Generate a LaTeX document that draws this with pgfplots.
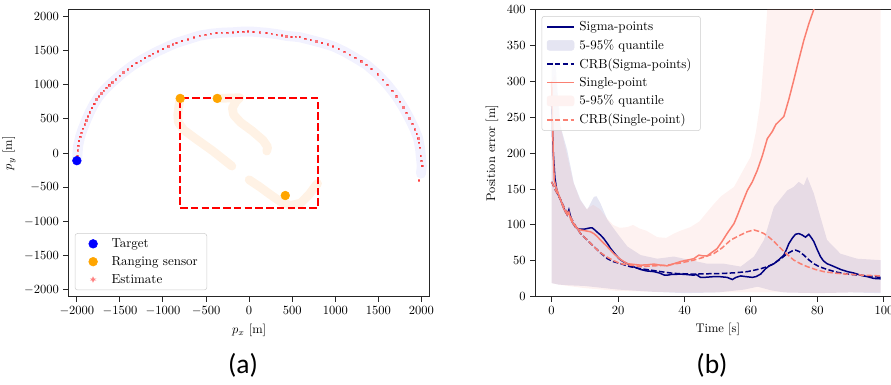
\documentclass[border=0pt]{standalone}
\usepackage{pgfplots}
\pgfplotsset{compat=1.18}
\usepackage{fontspec}
\newfontfamily\labfont{Carlito}
\definecolor{navyc}{RGB}{0,0,128}
\definecolor{salmonc}{RGB}{250,128,114}
\definecolor{orangec}{RGB}{255,165,0}
\definecolor{trailc}{RGB}{255,150,40}
\definecolor{bluec}{RGB}{0,0,255}
\definecolor{redc}{RGB}{255,0,0}
\definecolor{estc}{RGB}{255,128,128}
\pgfplotsset{
  mpl/.style={
    scale only axis,
    axis line style={black!85, line width=0.8pt},
    tick pos=left,
    tick align=outside,
    major tick length=4pt,
    every tick/.style={black!85, line width=0.8pt},
    tick label style={font=\normalsize},
    label style={font=\normalsize},
    legend cell align=left,
    legend style={draw=black!20, rounded corners=2pt, fill=white, fill opacity=0.8, text opacity=1,
      font=\fontsize{10.4}{12.5}\selectfont,
      inner xsep=3.5pt, inner ysep=3pt, row sep=3.7pt,
      nodes={inner xsep=3.7pt, inner ysep=1pt}},
  },
  linelegend/.style={legend image code/.code={\draw[##1] (0pt,0pt) -- (21.6pt,0pt);}},
}
\begin{document}
\begin{tikzpicture}[x=1pt,y=1pt]
\useasboundingbox (0,0) rectangle (712.8,308);
% ---------------- (a) ----------------
\begin{axis}[mpl,
  at={(54.6pt,70.6pt)}, anchor=south west,
  width=289.4pt, height=229.8pt,
  xmin=-2100, xmax=2100, ymin=-2100, ymax=2100,
  xtick={-2000,-1500,-1000,-500,0,500,1000,1500,2000},
  ytick={-2000,-1500,-1000,-500,0,500,1000,1500,2000},
  xlabel={$p_x$ [m]}, ylabel={$p_y$ [m]},
  xticklabel style={/pgf/number format/.cd, 1000 sep={}},
  yticklabel style={/pgf/number format/.cd, 1000 sep={}},
  legend style={at={(0.018,0.023)}, anchor=south west},
]
\addlegendimage{legend image code/.code={\fill[bluec, fill opacity=1] (10.8pt,0pt) circle (3.5pt); \path (0pt,0pt) (21.6pt,0pt);}}
\addlegendentry{Target}
\addlegendimage{legend image code/.code={\fill[orangec, fill opacity=1] (10.8pt,0pt) circle (3.5pt); \path (0pt,0pt) (21.6pt,0pt);}}
\addlegendentry{Ranging sensor}
\addlegendimage{legend image code/.code={\fill[estc, fill opacity=1] (10.35pt,-0.45pt) rectangle (11.25pt,0.45pt); \path (0pt,0pt) (21.6pt,0pt);}}
\addlegendentry{Estimate}
% true trajectory band
\addplot[forget plot, no marks, color=bluec, opacity=0.05, line width=8pt, line cap=round, line join=round] coordinates {
(-2000,-110)(-1995,-40)(-1985,110)(-1962,240)(-1930,360)(-1892,480)(-1850,600)(-1800,720)(-1745,830)(-1688,915)(-1625,995)(-1550,1080)(-1460,1180)(-1360,1275)(-1260,1355)(-1160,1425)(-1060,1490)(-940,1560)(-846,1611)(-710,1665)(-575,1718)(-445,1745)(-320,1760)(-188,1767)(-70,1777)(50,1775)(199,1760)(320,1740)(432,1715)(587,1695)(715,1655)(845,1612)(974,1563)(1105,1485)(1230,1395)(1361,1295)(1490,1155)(1605,1000)(1709,834)(1790,670)(1860,510)(1922,348)(1962,215)(1983,80)(1995,-60)(2005,-190)(1995,-300)
};
% sensor trails
\addplot[forget plot, no marks, color=trailc, opacity=0.12, line width=7pt, line cap=round, line join=round] coordinates {
(-800,800)(-815,700)(-828,560)(-822,450)(-760,340)(-620,210)(-420,30)(-200,-190)
};
\addplot[forget plot, no marks, color=trailc, opacity=0.12, line width=7pt, line cap=round, line join=round] coordinates {
(-370,800)(-110,810)(-150,760)(-195,660)(-180,560)(-100,450)(40,320)(160,190)(215,90)(205,30)
};
\addplot[forget plot, no marks, color=trailc, opacity=0.12, line width=7pt, line cap=round, line join=round] coordinates {
(0,-390)(120,-490)(250,-610)(370,-715)(480,-765)(600,-730)(700,-600)(770,-480)(795,-445)
};
% rectangle
\addplot[forget plot, no marks, color=redc, line width=1.6pt, dash pattern=on 6pt off 2.6pt] coordinates {
(-800,-800)(800,-800)(800,800)(-800,800)(-800,-800)
};
% estimate
\addplot[forget plot, only marks, mark=square*, mark size=0.55pt, color=redc, opacity=0.5] coordinates {
(-1995,-40)(-1990,40)(-1985,110)(-1975,180)(-1962,240)(-1948,300)(-1930,360)(-1912,420)(-1892,480)(-1872,540)(-1850,600)(-1826,660)(-1800,720)(-1775,785)(-1745,830)(-1715,875)(-1688,915)(-1659,955)(-1625,995)(-1590,1035)(-1550,1080)(-1504,1135)(-1460,1180)(-1410,1225)(-1360,1275)(-1311,1320)(-1260,1355)(-1210,1390)(-1160,1425)(-1117,1456)(-1060,1490)(-1000,1525)(-940,1560)(-890,1590)(-846,1611)(-780,1640)(-710,1665)(-640,1695)(-575,1718)(-510,1730)(-445,1745)(-381,1757)(-320,1760)(-255,1763)(-188,1767)(-130,1772)(-70,1777)(-14,1781)(50,1772)(120,1765)(199,1757)(260,1745)(320,1735)(380,1722)(432,1708)(490,1700)(540,1702)(587,1699)(650,1675)(715,1655)(780,1636)(845,1612)(910,1590)(974,1563)(1040,1525)(1105,1485)(1167,1441)(1230,1395)(1300,1345)(1361,1295)(1420,1230)(1490,1155)(1554,1077)(1605,1000)(1660,915)(1709,834)(1750,755)(1790,670)(1826,591)(1860,510)(1895,430)(1922,348)(1945,280)(1962,215)(1973,153)(1983,80)(1992,-41)(2000,-110)(2008,-187)(1973,-396)
};
% target and sensors
\addplot[forget plot, only marks, mark=*, mark size=3.5pt, color=bluec] coordinates {(-2000,-110)};
\addplot[forget plot, only marks, mark=*, mark size=3.5pt, color=orangec] coordinates {(-800,800)(-370,800)(420,-620)};
\end{axis}
% ---------------- (b) ----------------
\begin{axis}[mpl,
  at={(428pt,70.6pt)}, anchor=south west,
  width=292.4pt, height=229.8pt,
  xmin=-5, xmax=105, ymin=0, ymax=400,
  xtick={0,20,40,60,80,100},
  ytick={0,50,100,150,200,250,300,350,400},
  xlabel={Time [s]}, ylabel={Position error [m]},
  legend style={at={(0.018,0.977)}, anchor=north west},
]
\addlegendimage{linelegend, color=navyc, line width=1.2pt}
\addlegendentry{Sigma-points}
\addlegendimage{legend image code/.code={\fill[navyc!10, fill opacity=1] (0pt,-4pt) rectangle (21.6pt,4pt);}}
\addlegendentry{5-95\% quantile}
\addlegendimage{linelegend, color=navyc, line width=1.2pt, dash pattern=on 4.4pt off 1.9pt}
\addlegendentry{CRB(Sigma-points)}
\addlegendimage{linelegend, color=salmonc, line width=1.3pt}
\addlegendentry{Single-point}
\addlegendimage{legend image code/.code={\fill[salmonc!10, fill opacity=1] (0pt,-4pt) rectangle (21.6pt,4pt);}}
\addlegendentry{5-95\% quantile}
\addlegendimage{linelegend, color=salmonc, line width=1.3pt, dash pattern=on 4.4pt off 1.9pt}
\addlegendentry{CRB(Single-point)}
% bands
\addplot[forget plot, draw=none, fill=navyc, fill opacity=0.1] coordinates {
(0,325)(0.5,330)(1.2,320)(2.7,237)(4.7,204)(6.7,158)(8.7,135)(10.7,121)(12.7,139)(13.5,140)(14.7,130)(16.8,107)(19.8,88)(22.8,70)(26.8,58)(31.8,53)(36.8,56)(41.8,51)(46.8,46)(51.9,46)(56.9,42)(60.9,56)(63.9,79)(66.9,125)(70.9,148)(72.9,153)(74.4,160)(75.9,155)(76.9,167)(78.9,144)(80.9,111)(82.9,79)(86.9,60)(91.9,53)(99,51)
(99,5)(90,6)(80,5)(70,6)(66,9)(62,14)(58,10)(50,6)(40,5)(30,7)(20,10)(10,15)(5,16)(2,17)(0,19)
} -- cycle;
\addplot[forget plot, draw=none, fill=salmonc, fill opacity=0.1] coordinates {
(0,300)(1,310)(2.5,240)(4.5,200)(6.5,160)(8.5,135)(10.5,122)(12.5,128)(14.5,122)(16.5,110)(18.5,100)(20.5,96)(22.8,97)(24.5,100)(26.5,95)(28.5,92)(31.8,83)(34.5,82)(36.8,88)(38.8,92)(41.8,97)(44.5,105)(46.8,118)(49,130)(51,140)(54.9,153)(57.5,175)(59.9,195)(61.5,230)(62.9,274)(64,340)(64.9,400)(66,470)(99,470)
(99,6)(90,6)(80,5)(70,6)(60,6)(50,6)(40,6)(30,7)(20,8)(10,12)(5,15)(2,17)(0,19)
} -- cycle;
% Sigma-points
\addplot[forget plot, no marks, color=navyc, line width=1.2pt] coordinates {
(0,270)(0.5,200)(1,165)(1.5,150)(2,142)(2.7,135)(3.5,125)(4.2,118)(4.7,114)(5.2,121)(5.7,112)(6.2,104)(7,98)(7.7,95)(8.7,94)(9.7,94)(10.7,95)(11.7,96)(12.2,96)(13,93)(13.7,90)(14.7,86)(15.7,81)(16.8,74)(17.8,67)(19,60)(20.3,53)(21.5,49)(22.8,46)(24.5,42)(26.8,38)(28.5,36)(30.8,35)(32.5,33)(34,30)(34.8,30)(36,31)(38.8,31.5)(40.5,31)(42.8,30)(43.5,31)(44.8,27)(46,27)(48.8,28)(50.5,28)(52.8,27)(54.4,24)(55.5,27)(56.9,29)(58.5,28)(60.4,27)(61.5,28)(62.9,31.5)(64.4,39)(65.5,43)(66.9,46)(68.5,52)(69.9,58)(70.7,66)(71.4,74)(72.5,82)(73.4,87)(74.4,88)(75.4,86)(76.4,83)(77.4,87)(78.2,82)(78.9,77)(80,65)(80.9,56)(81.8,50)(82.9,46)(84,44)(85.5,41)(87,38)(89,35)(91,33)(93,30)(95,28)(97,25.5)(99,25)
};
% CRB sigma
\addplot[forget plot, no marks, color=navyc, line width=1.2pt, dash pattern=on 4.4pt off 1.9pt] coordinates {
(0,160)(1,150)(2.7,135)(4,122)(5.7,111)(7,100)(8.7,88)(10.5,80)(12.7,70)(14.5,62)(16.8,53)(18.5,49)(20.8,46)(23.5,42)(26.8,39)(30,37)(32.8,35)(36.8,32.5)(42.8,31.5)(47,32)(51.9,32.5)(55.5,33.5)(58.9,35)(61,37)(62.9,39)(65,42)(66.9,46)(69,53)(70.9,60)(72.5,64)(73.4,65)(74.5,63)(75.9,58)(77.5,51)(78.9,46)(80.5,42)(82.9,38)(86,34)(89,31.5)(93,30)(97,28)(99,27)
};
% Single-point
\addplot[forget plot, no marks, color=salmonc, line width=1.2pt] coordinates {
(0,300)(0.5,200)(0.8,162)(1.5,150)(2.7,135)(3.7,122)(4.7,114)(5.2,118)(5.7,108)(6.7,100)(7.7,95)(8.7,93)(10,92)(11.7,90.5)(12.7,88)(13.7,84)(14.7,79)(16.7,70)(18.7,60)(20.7,52)(22.8,46)(24.8,45)(26.8,44)(28.8,44.5)(30.8,45.5)(32.8,44)(34.8,43)(36.8,46)(38.8,49)(40.8,51)(42.8,53)(44.3,58)(45.5,57)(46.8,57)(48.3,62)(49.8,67)(51.3,77)(52.8,88)(54.9,102)(55.9,113)(56.9,125)(58.9,148)(60.4,160)(61.9,176)(63.4,196)(64.9,220)(66.4,230)(67.5,240)(69.9,251)(71.4,275)(72.9,302)(74.4,330)(75.9,357)(77.4,380)(78.9,400)(80.5,430)
};
% CRB single
\addplot[forget plot, no marks, color=salmonc, line width=1.2pt, dash pattern=on 4.4pt off 1.9pt] coordinates {
(0,160)(1,150)(2.7,135)(4,122)(5.7,111)(7,100)(8.7,88)(10.5,80)(12.7,70)(14.5,62)(16.8,55)(18.8,50)(20.8,46)(23.8,44)(26.8,42)(30.8,43)(34.8,44)(38.8,47)(42.8,51)(45.8,55)(48.8,60)(51.3,68)(53.9,79)(56.4,85)(58.9,90.5)(60.9,93)(62.4,91)(63.9,88)(65.4,83)(66.9,77)(68.4,70)(69.9,63)(71.4,57)(72.9,51)(74.9,46)(76.9,42)(79.4,38)(81.9,35)(85,33)(89,31.5)(94,30)(99,29)
};
\end{axis}
\node[font=\labfont\fontsize{22}{24}\selectfont] at (194.4,16) {(a)};
\node[font=\labfont\fontsize{22}{24}\selectfont] at (569.6,16) {(b)};
\end{tikzpicture}
\end{document}
